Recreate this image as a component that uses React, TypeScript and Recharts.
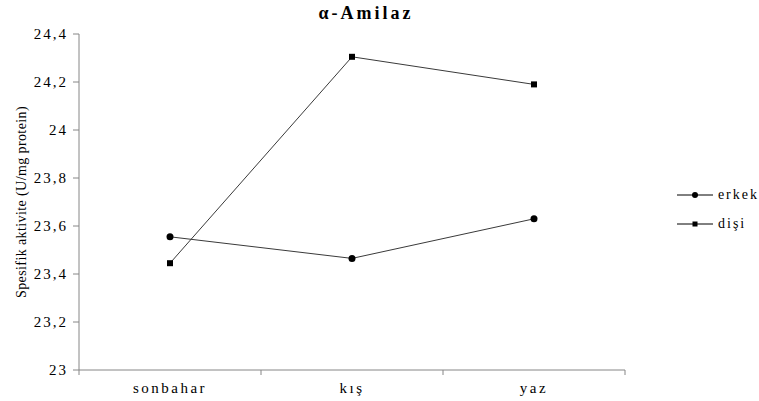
import { LineChart, Line, XAxis, YAxis, Legend } from 'recharts';

const seasons = ['sonbahar', 'kış', 'yaz'];
const erkek = [23.555, 23.465, 23.63];
const disi = [23.445, 24.305, 24.19];
const yTicks = [23, 23.2, 23.4, 23.6, 23.8, 24, 24.2, 24.4];
const bandTicks = [0, 1, 2, 3];

const data = seasons.map((s, i) => ({ season: s, erkek: erkek[i], disi: disi[i], band: i + 0.5 }));

const serif = '"Liberation Serif", "DejaVu Serif", serif';
const axisGray = '#868686';
const lineColor = '#3a3a3a';
const catAxisH = 25;

const fmt = (v: number) => String(Number(v.toFixed(1))).replace('.', ',');

const CircleDot = (props: any) => {
  const { cx, cy, index } = props;
  return <circle key={`c${index}`} cx={cx} cy={cy} r={3.5} fill="#000" />;
};

const SquareDot = (props: any) => {
  const { cx, cy, index } = props;
  return <rect key={`s${index}`} x={cx - 3} y={cy - 3} width={6} height={6} fill="#000" />;
};

// category boundary ticks, drawn up at the category axis line
const BoundaryTick = (props: any) => {
  const { x, y } = props;
  const top = y - catAxisH;
  return <line x1={x} y1={top} x2={x} y2={top + 5} stroke={axisGray} strokeWidth={1} />;
};

const LegendContent = () => {
  const items = [
    { key: 'erkek', label: 'erkek', shape: 'circle' },
    { key: 'disi', label: 'dişi', shape: 'square' },
  ];
  return (
    <div style={{ fontFamily: serif, fontSize: 14, letterSpacing: 2, width: 82 }}>
      {items.map((it) => (
        <div key={it.key} style={{ display: 'flex', alignItems: 'center', height: 29 }}>
          <svg width={40} height={10}>
            <line x1={0} y1={5} x2={36} y2={5} stroke="#000" strokeWidth={1} />
            {it.shape === 'circle' ? (
              <circle cx={18} cy={5} r={3} fill="#000" />
            ) : (
              <rect x={15.5} y={2.5} width={5} height={5} fill="#000" />
            )}
          </svg>
          <span style={{ marginLeft: 1 }}>{it.label}</span>
        </div>
      ))}
    </div>
  );
};

export default function App() {
  return (
    <div style={{ position: 'absolute', left: 0, top: 0, width: 759, height: 401, background: '#fff' }}>
      <div
        style={{
          position: 'absolute',
          left: 0,
          top: 3,
          width: 732,
          textAlign: 'center',
          fontFamily: serif,
          fontWeight: 'bold',
          fontSize: 18,
          letterSpacing: 3,
        }}
      >
        α-Amilaz
      </div>
      <LineChart width={759} height={401} data={data} margin={{ top: 34, right: 52, bottom: 5, left: 19 }}>
        <XAxis
          dataKey="season"
          scale="band"
          height={catAxisH}
          tickLine={false}
          stroke={axisGray}
          tick={{ fill: '#000', fontFamily: serif, fontSize: 15, letterSpacing: 2.5 }}
          tickMargin={6}
        />
        <XAxis
          xAxisId="band"
          dataKey="band"
          type="number"
          domain={[0, 3]}
          ticks={bandTicks}
          interval={0}
          tick={<BoundaryTick />}
          tickLine={false}
          tickSize={0}
          tickMargin={0}
          height={1}
          axisLine={false}
        />
        <YAxis
          width={60}
          domain={[23, 24.4]}
          ticks={yTicks}
          tickFormatter={fmt}
          tickSize={6}
          tickMargin={5}
          stroke={axisGray}
          tick={{ fill: '#000', fontFamily: serif, fontSize: 15, letterSpacing: 2 }}
          label={{
            value: 'Spesifik aktivite (U/mg protein)',
            angle: -90,
            position: 'insideLeft',
            offset: 2,
            style: { textAnchor: 'middle', fontFamily: serif, fontSize: 14, letterSpacing: 0.4, fill: '#000' },
          }}
        />
        <Legend
          content={<LegendContent />}
          layout="vertical"
          align="right"
          verticalAlign="middle"
          wrapperStyle={{ position: 'absolute', left: 677, top: 180, width: 82 }}
        />
        <Line
          dataKey="erkek"
          stroke={lineColor}
          strokeWidth={1}
          dot={CircleDot}
          activeDot={false}
          isAnimationActive={false}
        />
        <Line
          dataKey="disi"
          stroke={lineColor}
          strokeWidth={1}
          dot={SquareDot}
          activeDot={false}
          isAnimationActive={false}
        />
      </LineChart>
    </div>
  );
}
